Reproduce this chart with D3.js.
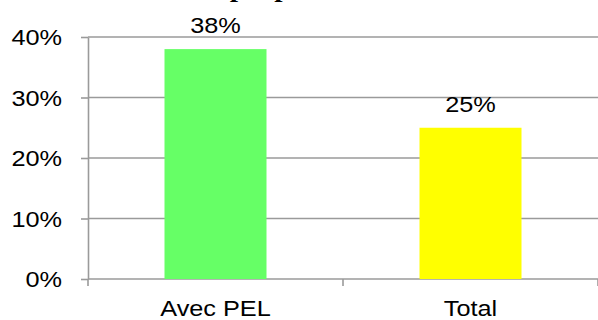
<!DOCTYPE html>
<html>
<head>
<meta charset="utf-8">
<script src="https://cdn.jsdelivr.net/npm/d3@7"></script>
<style>
  html, body { margin: 0; padding: 0; background: #fff; }
  svg { display: block; }
</style>
</head>
<body>
<svg id="chart" width="598" height="320"></svg>
<script>
// Data
const categories = ["Avec PEL", "Total"];
const values = [0.38, 0.25];
const barColors = ["#66ff66", "#ffff00"];
const yTicks = [0, 0.1, 0.2, 0.3, 0.4];
const titleText = "Taux d'accès à la propriété";

const W = 598, H = 320;
const stretch = 1.15;           // horizontal widening applied to all text
const gridColor = "#9a9a9a";
const labelFont = "'Liberation Sans', Arial, sans-serif";

const svg = d3.select("#chart");

const x = d3.scaleBand().domain(categories).range([88, 598]).padding(0);
const y = d3.scaleLinear().domain([0, 0.4]).range([279, 37]);
const barW = x.bandwidth() * 0.4;

// Title (mostly above the top edge)
const title = svg.append("text")
  .attr("font-family", "'Liberation Serif', 'Times New Roman', serif")
  .attr("font-weight", "bold")
  .attr("font-size", 26)
  .attr("fill", "#000")
  .text(titleText);
// place so that the word "propriété" starts near x = 230
const pIdx = titleText.indexOf("propriété");
const pOff = title.node().getStartPositionOfChar(pIdx).x;
title.attr("transform", `translate(${230 - pOff * stretch},-3) scale(${stretch},1)`);

// Horizontal gridlines
svg.append("g")
  .selectAll("line")
  .data(yTicks)
  .join("line")
  .attr("x1", x.range()[0])
  .attr("x2", x.range()[1])
  .attr("y1", d => y(d))
  .attr("y2", d => y(d))
  .attr("stroke", gridColor)
  .attr("stroke-width", 1.6);

// Bars
svg.append("g")
  .selectAll("rect")
  .data(categories)
  .join("rect")
  .attr("x", d => x(d) + (x.bandwidth() - barW) / 2)
  .attr("width", barW)
  .attr("y", (d, i) => y(values[i]))
  .attr("height", (d, i) => y(0) - y(values[i]))
  .attr("fill", (d, i) => barColors[i]);

// Value labels
svg.append("g")
  .selectAll("text")
  .data(categories)
  .join("text")
  .attr("transform", (d, i) =>
    `translate(${x(d) + x.bandwidth() / 2},${y(values[i]) - 16}) scale(${stretch},1)`)
  .attr("text-anchor", "middle")
  .attr("font-family", labelFont)
  .attr("font-size", 22)
  .attr("fill", "#000")
  .text((d, i) => d3.format(".0%")(values[i]));

// Y axis
const yAxis = svg.append("g")
  .attr("transform", `translate(${x.range()[0]},0)`)
  .call(d3.axisLeft(y).tickValues(yTicks).tickFormat(d3.format(".0%"))
    .tickSize(7).tickSizeOuter(0).tickPadding(0));
yAxis.select(".domain").attr("stroke", gridColor).attr("stroke-width", 1.6);
yAxis.selectAll(".tick line").attr("stroke", gridColor).attr("stroke-width", 1.6);
yAxis.selectAll(".tick text")
  .attr("x", -26 / stretch)
  .attr("dy", "0.35em")
  .attr("transform", `scale(${stretch},1)`)
  .attr("font-family", labelFont)
  .attr("font-size", 22)
  .attr("fill", "#000");

// X axis: labels at band centres, tick marks at band boundaries
const xAxis = svg.append("g")
  .attr("transform", `translate(0,${y(0)})`)
  .call(d3.axisBottom(x).tickSize(0).tickPadding(0));
xAxis.select(".domain").remove();
xAxis.selectAll(".tick text")
  .attr("y", 37)
  .attr("dy", 0)
  .attr("transform", `scale(${stretch},1)`)
  .attr("font-family", labelFont)
  .attr("font-size", 22)
  .attr("fill", "#000");

const boundaries = categories.map(c => x(c)).concat([x.range()[1]]);
svg.append("g")
  .selectAll("line")
  .data(boundaries)
  .join("line")
  .attr("x1", d => d)
  .attr("x2", d => d)
  .attr("y1", y(0))
  .attr("y2", y(0) + 7)
  .attr("stroke", gridColor)
  .attr("stroke-width", 1.6);
</script>
</body>
</html>
